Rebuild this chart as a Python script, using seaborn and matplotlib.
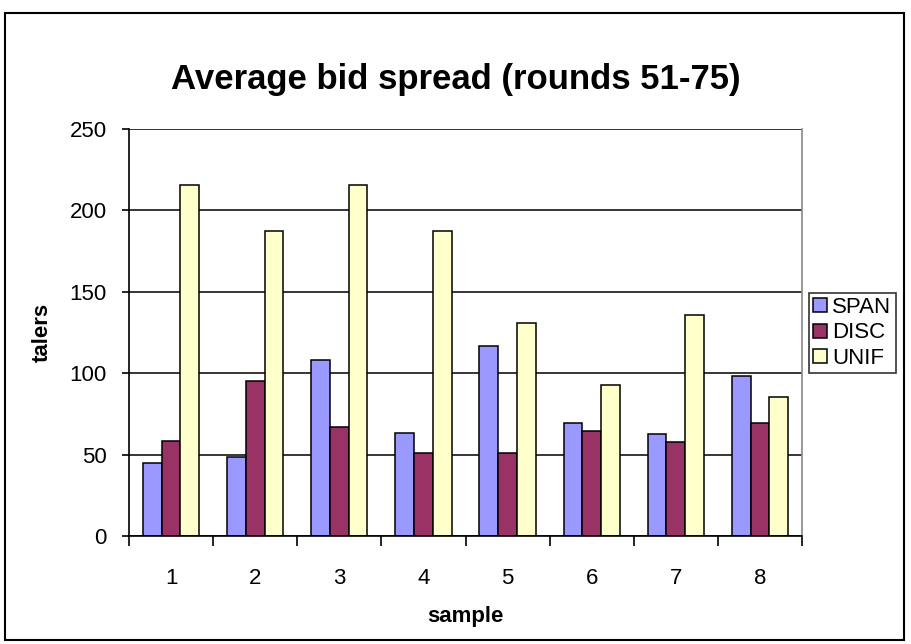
import numpy as np
import pandas as pd
import matplotlib.pyplot as plt
import seaborn as sns
from matplotlib.patches import Rectangle
from matplotlib.ticker import FixedLocator

# values
samples = ['1', '2', '3', '4', '5', '6', '7', '8']
span = [45, 48.5, 108, 63.5, 117, 69.5, 62.5, 98]
disc = [58.5, 95, 67, 51, 51, 64.5, 57.5, 69.5]
unif = [215.5, 187.5, 215.5, 187.5, 131, 93, 135.5, 85.5]
series = ['SPAN', 'DISC', 'UNIF']
colors = ['#9999FF', '#993366', '#FFFFCC']

df = pd.DataFrame({
    'sample': samples * 3,
    'talers': span + disc + unif,
    'series': np.repeat(series, len(samples)),
})

sns.set_style('white')
plt.rcParams['font.family'] = ['Liberation Sans', 'DejaVu Sans']
plt.rcParams['text.color'] = 'black'
plt.rcParams['axes.labelcolor'] = 'black'
plt.rcParams['xtick.color'] = 'black'
plt.rcParams['ytick.color'] = 'black'

fig = plt.figure(figsize=(9.11, 6.44), dpi=100)
ax = fig.add_axes([129 / 911, 1 - 536 / 644, (802 - 129) / 911, (536 - 129) / 644])

sns.barplot(data=df, x='sample', y='talers', hue='series', palette=colors,
            saturation=1, width=0.67, edgecolor='black', linewidth=1.1, gap=0, ax=ax)

ax.set_ylim(0, 250)
ax.set_xlim(-0.5, 7.5)
ax.set_yticks(range(0, 251, 50))
ax.yaxis.grid(True, color='black', linewidth=1.1)
ax.set_axisbelow(True)
for s in ax.spines.values():
    s.set_color('black')
    s.set_linewidth(1.2)
ax.spines['right'].set_color('#888888')
ax.spines['top'].set_visible(False)

ax.tick_params(axis='y', which='major', length=5, width=1.2, direction='out',
               labelsize=16, left=True, pad=11)
ax.tick_params(axis='x', which='major', length=0, labelsize=16, pad=23)
ax.xaxis.set_minor_locator(FixedLocator(np.arange(-0.5, 8, 1)))
ax.tick_params(axis='x', which='minor', length=7, width=1.2, direction='out', bottom=True)

ax.set_xlabel('sample', fontsize=16, fontweight='bold', labelpad=12)
ax.set_ylabel('talers', fontsize=16, fontweight='bold', labelpad=12)

fig.suptitle('Average bid spread (rounds 51-75)', fontsize=25, fontweight='bold',
             x=0.5, y=1 - 80 / 644, va='center')

handles, labels = ax.get_legend_handles_labels()
leg = ax.legend(handles, labels, loc='center left', bbox_to_anchor=(809 / 911, 1 - 333 / 644),
                bbox_transform=fig.transFigure, fontsize=16, frameon=True, fancybox=False,
                handlelength=0.6, handleheight=0.6, handletextpad=0.25, borderpad=0.2,
                labelspacing=0.2, borderaxespad=0)
leg.get_frame().set_edgecolor('black')
leg.get_frame().set_linewidth(1.2)

# outer chart border
fig.patches.append(Rectangle((5 / 911, 1 - 640 / 644), 899 / 911, 627 / 644,
                             transform=fig.transFigure, fill=False,
                             edgecolor='black', linewidth=1.5))

fig.savefig('out.png', dpi=100)
